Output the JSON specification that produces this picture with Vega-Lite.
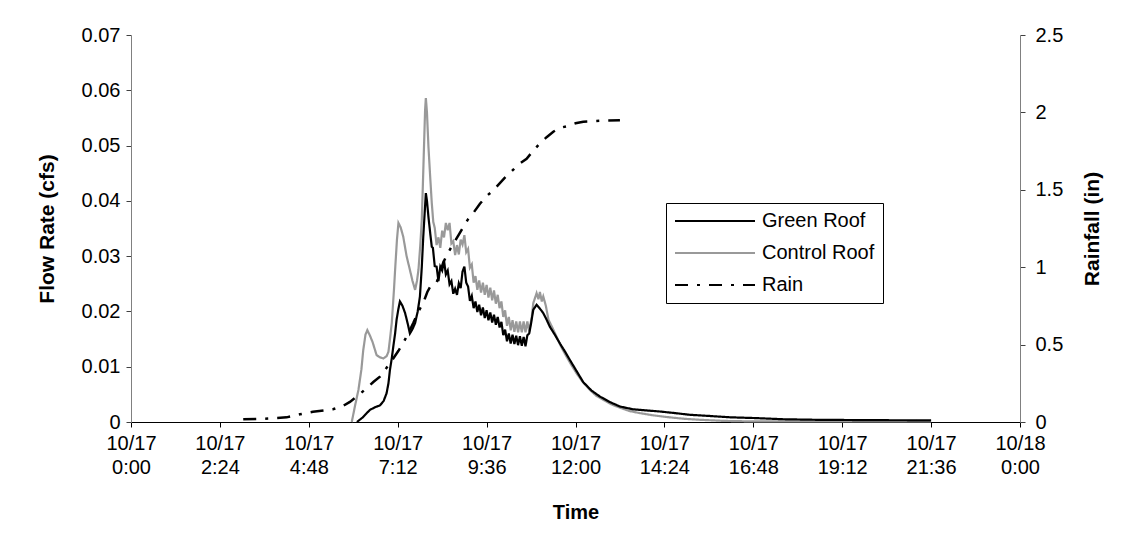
{
  "$schema": "https://vega.github.io/schema/vega-lite/v6.json",
  "width": 889,
  "height": 387,
  "autosize": {"type": "none"},
  "padding": {"left": 131, "top": 35, "right": 110, "bottom": 111},
  "background": "white",
  "config": {
    "font": "Liberation Sans",
    "view": {"stroke": null},
    "axis": {"grid": false, "labelColor": "black", "titleColor": "black", "labelFontSize": 20, "titleFontSize": 21, "titleFontWeight": "bold", "labelFont": "Liberation Sans", "titleFont": "Liberation Sans"}
  },
  "datasets": {
    "control": [
      {"series": "Control Roof", "hour": 5.96, "flow": 0},
      {"series": "Control Roof", "hour": 6.05, "flow": 0.003},
      {"series": "Control Roof", "hour": 6.14, "flow": 0.0058},
      {"series": "Control Roof", "hour": 6.22, "flow": 0.0095},
      {"series": "Control Roof", "hour": 6.27, "flow": 0.013},
      {"series": "Control Roof", "hour": 6.33, "flow": 0.0158},
      {"series": "Control Roof", "hour": 6.38, "flow": 0.0166},
      {"series": "Control Roof", "hour": 6.44, "flow": 0.0158},
      {"series": "Control Roof", "hour": 6.52, "flow": 0.0145},
      {"series": "Control Roof", "hour": 6.63, "flow": 0.0121},
      {"series": "Control Roof", "hour": 6.72, "flow": 0.0117},
      {"series": "Control Roof", "hour": 6.81, "flow": 0.0115},
      {"series": "Control Roof", "hour": 6.9, "flow": 0.0119},
      {"series": "Control Roof", "hour": 6.95, "flow": 0.0127},
      {"series": "Control Roof", "hour": 7.0, "flow": 0.0155},
      {"series": "Control Roof", "hour": 7.04, "flow": 0.0179},
      {"series": "Control Roof", "hour": 7.1, "flow": 0.024},
      {"series": "Control Roof", "hour": 7.13, "flow": 0.0275},
      {"series": "Control Roof", "hour": 7.18, "flow": 0.033},
      {"series": "Control Roof", "hour": 7.22, "flow": 0.036},
      {"series": "Control Roof", "hour": 7.28, "flow": 0.0352},
      {"series": "Control Roof", "hour": 7.35, "flow": 0.0335},
      {"series": "Control Roof", "hour": 7.44, "flow": 0.03},
      {"series": "Control Roof", "hour": 7.53, "flow": 0.0275},
      {"series": "Control Roof", "hour": 7.6, "flow": 0.0255},
      {"series": "Control Roof", "hour": 7.67, "flow": 0.0239},
      {"series": "Control Roof", "hour": 7.72, "flow": 0.0255},
      {"series": "Control Roof", "hour": 7.76, "flow": 0.0275},
      {"series": "Control Roof", "hour": 7.81, "flow": 0.032},
      {"series": "Control Roof", "hour": 7.85, "flow": 0.0365},
      {"series": "Control Roof", "hour": 7.88, "flow": 0.043},
      {"series": "Control Roof", "hour": 7.91, "flow": 0.0498},
      {"series": "Control Roof", "hour": 7.94, "flow": 0.0565},
      {"series": "Control Roof", "hour": 7.96, "flow": 0.0586},
      {"series": "Control Roof", "hour": 7.99, "flow": 0.056},
      {"series": "Control Roof", "hour": 8.03, "flow": 0.0498},
      {"series": "Control Roof", "hour": 8.08, "flow": 0.044},
      {"series": "Control Roof", "hour": 8.12, "flow": 0.0396},
      {"series": "Control Roof", "hour": 8.16, "flow": 0.0362},
      {"series": "Control Roof", "hour": 8.2, "flow": 0.0351},
      {"series": "Control Roof", "hour": 8.25, "flow": 0.032},
      {"series": "Control Roof", "hour": 8.3, "flow": 0.0334},
      {"series": "Control Roof", "hour": 8.35, "flow": 0.0315},
      {"series": "Control Roof", "hour": 8.4, "flow": 0.0346},
      {"series": "Control Roof", "hour": 8.45, "flow": 0.0334},
      {"series": "Control Roof", "hour": 8.5, "flow": 0.036},
      {"series": "Control Roof", "hour": 8.55, "flow": 0.0347},
      {"series": "Control Roof", "hour": 8.6, "flow": 0.036},
      {"series": "Control Roof", "hour": 8.65, "flow": 0.0323},
      {"series": "Control Roof", "hour": 8.7, "flow": 0.0327},
      {"series": "Control Roof", "hour": 8.75, "flow": 0.0302},
      {"series": "Control Roof", "hour": 8.8, "flow": 0.032},
      {"series": "Control Roof", "hour": 8.85, "flow": 0.0303},
      {"series": "Control Roof", "hour": 8.9, "flow": 0.033},
      {"series": "Control Roof", "hour": 8.95, "flow": 0.0321},
      {"series": "Control Roof", "hour": 9.0, "flow": 0.0338},
      {"series": "Control Roof", "hour": 9.05, "flow": 0.0307},
      {"series": "Control Roof", "hour": 9.1, "flow": 0.0313},
      {"series": "Control Roof", "hour": 9.15, "flow": 0.0279},
      {"series": "Control Roof", "hour": 9.2, "flow": 0.0285},
      {"series": "Control Roof", "hour": 9.25, "flow": 0.0252},
      {"series": "Control Roof", "hour": 9.3, "flow": 0.0264},
      {"series": "Control Roof", "hour": 9.35, "flow": 0.0239},
      {"series": "Control Roof", "hour": 9.4, "flow": 0.0256},
      {"series": "Control Roof", "hour": 9.45, "flow": 0.0234},
      {"series": "Control Roof", "hour": 9.5, "flow": 0.0252},
      {"series": "Control Roof", "hour": 9.55, "flow": 0.023},
      {"series": "Control Roof", "hour": 9.6, "flow": 0.0248},
      {"series": "Control Roof", "hour": 9.65, "flow": 0.0225},
      {"series": "Control Roof", "hour": 9.7, "flow": 0.0243},
      {"series": "Control Roof", "hour": 9.75, "flow": 0.022},
      {"series": "Control Roof", "hour": 9.8, "flow": 0.0238},
      {"series": "Control Roof", "hour": 9.85, "flow": 0.0214},
      {"series": "Control Roof", "hour": 9.9, "flow": 0.023},
      {"series": "Control Roof", "hour": 9.95, "flow": 0.0206},
      {"series": "Control Roof", "hour": 10.0, "flow": 0.0218},
      {"series": "Control Roof", "hour": 10.05, "flow": 0.019},
      {"series": "Control Roof", "hour": 10.1, "flow": 0.0202},
      {"series": "Control Roof", "hour": 10.15, "flow": 0.0174},
      {"series": "Control Roof", "hour": 10.2, "flow": 0.019},
      {"series": "Control Roof", "hour": 10.25, "flow": 0.0166},
      {"series": "Control Roof", "hour": 10.3, "flow": 0.0184},
      {"series": "Control Roof", "hour": 10.35, "flow": 0.0163},
      {"series": "Control Roof", "hour": 10.4, "flow": 0.0182},
      {"series": "Control Roof", "hour": 10.45, "flow": 0.0162},
      {"series": "Control Roof", "hour": 10.5, "flow": 0.0182},
      {"series": "Control Roof", "hour": 10.55, "flow": 0.0162},
      {"series": "Control Roof", "hour": 10.6, "flow": 0.0182},
      {"series": "Control Roof", "hour": 10.65, "flow": 0.0162},
      {"series": "Control Roof", "hour": 10.7, "flow": 0.0182},
      {"series": "Control Roof", "hour": 10.75, "flow": 0.0164},
      {"series": "Control Roof", "hour": 10.82, "flow": 0.019},
      {"series": "Control Roof", "hour": 10.86, "flow": 0.0215},
      {"series": "Control Roof", "hour": 10.95, "flow": 0.0233},
      {"series": "Control Roof", "hour": 11.0, "flow": 0.0222},
      {"series": "Control Roof", "hour": 11.04, "flow": 0.0235},
      {"series": "Control Roof", "hour": 11.09, "flow": 0.0218},
      {"series": "Control Roof", "hour": 11.13, "flow": 0.0227},
      {"series": "Control Roof", "hour": 11.2, "flow": 0.021},
      {"series": "Control Roof", "hour": 11.27, "flow": 0.0185},
      {"series": "Control Roof", "hour": 11.38, "flow": 0.017},
      {"series": "Control Roof", "hour": 11.49, "flow": 0.0154},
      {"series": "Control Roof", "hour": 11.62, "flow": 0.0135},
      {"series": "Control Roof", "hour": 11.76, "flow": 0.0118},
      {"series": "Control Roof", "hour": 11.9, "flow": 0.0102},
      {"series": "Control Roof", "hour": 12.03, "flow": 0.0088},
      {"series": "Control Roof", "hour": 12.2, "flow": 0.0072},
      {"series": "Control Roof", "hour": 12.39, "flow": 0.0058},
      {"series": "Control Roof", "hour": 12.57, "flow": 0.0047},
      {"series": "Control Roof", "hour": 12.75, "flow": 0.004},
      {"series": "Control Roof", "hour": 13.0, "flow": 0.0031},
      {"series": "Control Roof", "hour": 13.2, "flow": 0.0026},
      {"series": "Control Roof", "hour": 13.45, "flow": 0.002},
      {"series": "Control Roof", "hour": 13.74, "flow": 0.0016},
      {"series": "Control Roof", "hour": 14.1, "flow": 0.0012},
      {"series": "Control Roof", "hour": 14.46, "flow": 0.0009},
      {"series": "Control Roof", "hour": 14.9, "flow": 0.0006},
      {"series": "Control Roof", "hour": 15.36, "flow": 0.0004},
      {"series": "Control Roof", "hour": 16.0, "flow": 0.0002},
      {"series": "Control Roof", "hour": 16.8, "flow": 0.0001},
      {"series": "Control Roof", "hour": 18.0, "flow": 0.0001},
      {"series": "Control Roof", "hour": 20.0, "flow": 0.0001},
      {"series": "Control Roof", "hour": 21.6, "flow": 0.0001}
    ],
    "green": [
      {"series": "Green Roof", "hour": 6.1, "flow": 0},
      {"series": "Green Roof", "hour": 6.25, "flow": 0.0008},
      {"series": "Green Roof", "hour": 6.35, "flow": 0.0015},
      {"series": "Green Roof", "hour": 6.45, "flow": 0.0022},
      {"series": "Green Roof", "hour": 6.6, "flow": 0.0027},
      {"series": "Green Roof", "hour": 6.72, "flow": 0.003},
      {"series": "Green Roof", "hour": 6.82, "flow": 0.0038},
      {"series": "Green Roof", "hour": 6.9, "flow": 0.0052},
      {"series": "Green Roof", "hour": 6.95, "flow": 0.007},
      {"series": "Green Roof", "hour": 6.99, "flow": 0.0094},
      {"series": "Green Roof", "hour": 7.04, "flow": 0.0115},
      {"series": "Green Roof", "hour": 7.08, "flow": 0.0136},
      {"series": "Green Roof", "hour": 7.13, "flow": 0.016},
      {"series": "Green Roof", "hour": 7.17, "flow": 0.0185},
      {"series": "Green Roof", "hour": 7.22, "flow": 0.0205},
      {"series": "Green Roof", "hour": 7.26, "flow": 0.0218},
      {"series": "Green Roof", "hour": 7.33, "flow": 0.021},
      {"series": "Green Roof", "hour": 7.4, "flow": 0.0197},
      {"series": "Green Roof", "hour": 7.47, "flow": 0.0178},
      {"series": "Green Roof", "hour": 7.53, "flow": 0.016},
      {"series": "Green Roof", "hour": 7.6, "flow": 0.0168},
      {"series": "Green Roof", "hour": 7.67, "flow": 0.0179},
      {"series": "Green Roof", "hour": 7.74, "flow": 0.02},
      {"series": "Green Roof", "hour": 7.8, "flow": 0.0227},
      {"series": "Green Roof", "hour": 7.85, "flow": 0.028},
      {"series": "Green Roof", "hour": 7.89, "flow": 0.0335},
      {"series": "Green Roof", "hour": 7.93, "flow": 0.038},
      {"series": "Green Roof", "hour": 7.96, "flow": 0.0414},
      {"series": "Green Roof", "hour": 7.99, "flow": 0.04},
      {"series": "Green Roof", "hour": 8.03, "flow": 0.0371},
      {"series": "Green Roof", "hour": 8.08, "flow": 0.034},
      {"series": "Green Roof", "hour": 8.12, "flow": 0.0317},
      {"series": "Green Roof", "hour": 8.15, "flow": 0.0315},
      {"series": "Green Roof", "hour": 8.2, "flow": 0.0282},
      {"series": "Green Roof", "hour": 8.25, "flow": 0.0281},
      {"series": "Green Roof", "hour": 8.3, "flow": 0.0255},
      {"series": "Green Roof", "hour": 8.35, "flow": 0.0281},
      {"series": "Green Roof", "hour": 8.4, "flow": 0.0274},
      {"series": "Green Roof", "hour": 8.45, "flow": 0.0292},
      {"series": "Green Roof", "hour": 8.5, "flow": 0.0267},
      {"series": "Green Roof", "hour": 8.55, "flow": 0.0274},
      {"series": "Green Roof", "hour": 8.6, "flow": 0.0249},
      {"series": "Green Roof", "hour": 8.65, "flow": 0.0255},
      {"series": "Green Roof", "hour": 8.7, "flow": 0.0232},
      {"series": "Green Roof", "hour": 8.75, "flow": 0.0241},
      {"series": "Green Roof", "hour": 8.8, "flow": 0.023},
      {"series": "Green Roof", "hour": 8.85, "flow": 0.0251},
      {"series": "Green Roof", "hour": 8.9, "flow": 0.0242},
      {"series": "Green Roof", "hour": 8.95, "flow": 0.0272},
      {"series": "Green Roof", "hour": 9.0, "flow": 0.0281},
      {"series": "Green Roof", "hour": 9.05, "flow": 0.0252},
      {"series": "Green Roof", "hour": 9.1, "flow": 0.0245},
      {"series": "Green Roof", "hour": 9.15, "flow": 0.0219},
      {"series": "Green Roof", "hour": 9.2, "flow": 0.0228},
      {"series": "Green Roof", "hour": 9.25, "flow": 0.0206},
      {"series": "Green Roof", "hour": 9.3, "flow": 0.0218},
      {"series": "Green Roof", "hour": 9.35, "flow": 0.0199},
      {"series": "Green Roof", "hour": 9.4, "flow": 0.0212},
      {"series": "Green Roof", "hour": 9.45, "flow": 0.0193},
      {"series": "Green Roof", "hour": 9.5, "flow": 0.0207},
      {"series": "Green Roof", "hour": 9.55, "flow": 0.0188},
      {"series": "Green Roof", "hour": 9.6, "flow": 0.0202},
      {"series": "Green Roof", "hour": 9.65, "flow": 0.0184},
      {"series": "Green Roof", "hour": 9.7, "flow": 0.0198},
      {"series": "Green Roof", "hour": 9.75, "flow": 0.018},
      {"series": "Green Roof", "hour": 9.8, "flow": 0.0194},
      {"series": "Green Roof", "hour": 9.85, "flow": 0.0176},
      {"series": "Green Roof", "hour": 9.9, "flow": 0.019},
      {"series": "Green Roof", "hour": 9.95, "flow": 0.0171},
      {"series": "Green Roof", "hour": 10.0, "flow": 0.0181},
      {"series": "Green Roof", "hour": 10.05, "flow": 0.0157},
      {"series": "Green Roof", "hour": 10.1, "flow": 0.0167},
      {"series": "Green Roof", "hour": 10.15, "flow": 0.0146},
      {"series": "Green Roof", "hour": 10.2, "flow": 0.016},
      {"series": "Green Roof", "hour": 10.25, "flow": 0.0142},
      {"series": "Green Roof", "hour": 10.3, "flow": 0.0158},
      {"series": "Green Roof", "hour": 10.35, "flow": 0.0141},
      {"series": "Green Roof", "hour": 10.4, "flow": 0.0156},
      {"series": "Green Roof", "hour": 10.45, "flow": 0.0139},
      {"series": "Green Roof", "hour": 10.5, "flow": 0.0155},
      {"series": "Green Roof", "hour": 10.55, "flow": 0.0138},
      {"series": "Green Roof", "hour": 10.6, "flow": 0.0154},
      {"series": "Green Roof", "hour": 10.65, "flow": 0.0137},
      {"series": "Green Roof", "hour": 10.7, "flow": 0.0157},
      {"series": "Green Roof", "hour": 10.75, "flow": 0.016},
      {"series": "Green Roof", "hour": 10.8, "flow": 0.0178},
      {"series": "Green Roof", "hour": 10.86, "flow": 0.0203},
      {"series": "Green Roof", "hour": 10.95, "flow": 0.0212},
      {"series": "Green Roof", "hour": 11.04, "flow": 0.0205},
      {"series": "Green Roof", "hour": 11.13, "flow": 0.0197},
      {"series": "Green Roof", "hour": 11.22, "flow": 0.0185},
      {"series": "Green Roof", "hour": 11.31, "flow": 0.0172},
      {"series": "Green Roof", "hour": 11.45, "flow": 0.0157},
      {"series": "Green Roof", "hour": 11.58, "flow": 0.0142},
      {"series": "Green Roof", "hour": 11.72, "flow": 0.0127},
      {"series": "Green Roof", "hour": 11.85, "flow": 0.0112},
      {"series": "Green Roof", "hour": 12.03, "flow": 0.0092},
      {"series": "Green Roof", "hour": 12.21, "flow": 0.0072},
      {"series": "Green Roof", "hour": 12.43, "flow": 0.0057},
      {"series": "Green Roof", "hour": 12.66, "flow": 0.0046},
      {"series": "Green Roof", "hour": 12.93, "flow": 0.0036},
      {"series": "Green Roof", "hour": 13.2, "flow": 0.0028},
      {"series": "Green Roof", "hour": 13.55, "flow": 0.0023},
      {"series": "Green Roof", "hour": 13.9, "flow": 0.0021},
      {"series": "Green Roof", "hour": 14.28, "flow": 0.0019},
      {"series": "Green Roof", "hour": 14.7, "flow": 0.0016},
      {"series": "Green Roof", "hour": 15.09, "flow": 0.0013},
      {"series": "Green Roof", "hour": 15.6, "flow": 0.0011},
      {"series": "Green Roof", "hour": 16.17, "flow": 0.00085},
      {"series": "Green Roof", "hour": 16.9, "flow": 0.0007},
      {"series": "Green Roof", "hour": 17.6, "flow": 0.0005},
      {"series": "Green Roof", "hour": 18.5, "flow": 0.0004},
      {"series": "Green Roof", "hour": 19.4, "flow": 0.00036},
      {"series": "Green Roof", "hour": 20.5, "flow": 0.00032},
      {"series": "Green Roof", "hour": 21.6, "flow": 0.0003}
    ],
    "rain": [
      {"series": "Rain", "hour": 3.03, "rain": 0.017},
      {"series": "Rain", "hour": 3.5, "rain": 0.02},
      {"series": "Rain", "hour": 4.2, "rain": 0.03},
      {"series": "Rain", "hour": 4.56, "rain": 0.05},
      {"series": "Rain", "hour": 4.91, "rain": 0.066},
      {"series": "Rain", "hour": 5.2, "rain": 0.075},
      {"series": "Rain", "hour": 5.45, "rain": 0.082},
      {"series": "Rain", "hour": 5.7, "rain": 0.1},
      {"series": "Rain", "hour": 5.91, "rain": 0.13},
      {"series": "Rain", "hour": 6.09, "rain": 0.163},
      {"series": "Rain", "hour": 6.36, "rain": 0.218},
      {"series": "Rain", "hour": 6.55, "rain": 0.26},
      {"series": "Rain", "hour": 6.72, "rain": 0.293},
      {"series": "Rain", "hour": 6.9, "rain": 0.35},
      {"series": "Rain", "hour": 7.08, "rain": 0.41},
      {"series": "Rain", "hour": 7.22, "rain": 0.46},
      {"series": "Rain", "hour": 7.35, "rain": 0.51},
      {"series": "Rain", "hour": 7.5, "rain": 0.58},
      {"series": "Rain", "hour": 7.62, "rain": 0.64},
      {"series": "Rain", "hour": 7.75, "rain": 0.71},
      {"series": "Rain", "hour": 7.89, "rain": 0.77},
      {"series": "Rain", "hour": 8.0, "rain": 0.84},
      {"series": "Rain", "hour": 8.07, "rain": 0.87},
      {"series": "Rain", "hour": 8.25, "rain": 0.9},
      {"series": "Rain", "hour": 8.35, "rain": 0.97},
      {"series": "Rain", "hour": 8.43, "rain": 1.03},
      {"series": "Rain", "hour": 8.55, "rain": 1.09},
      {"series": "Rain", "hour": 8.7, "rain": 1.15},
      {"series": "Rain", "hour": 8.85, "rain": 1.21},
      {"series": "Rain", "hour": 8.97, "rain": 1.26},
      {"series": "Rain", "hour": 9.1, "rain": 1.31},
      {"series": "Rain", "hour": 9.24, "rain": 1.35},
      {"series": "Rain", "hour": 9.42, "rain": 1.41},
      {"series": "Rain", "hour": 9.6, "rain": 1.46},
      {"series": "Rain", "hour": 9.75, "rain": 1.49},
      {"series": "Rain", "hour": 9.87, "rain": 1.52},
      {"series": "Rain", "hour": 10.1, "rain": 1.58},
      {"series": "Rain", "hour": 10.32, "rain": 1.63},
      {"series": "Rain", "hour": 10.5, "rain": 1.67},
      {"series": "Rain", "hour": 10.68, "rain": 1.7},
      {"series": "Rain", "hour": 10.85, "rain": 1.75},
      {"series": "Rain", "hour": 11.04, "rain": 1.8},
      {"series": "Rain", "hour": 11.22, "rain": 1.84},
      {"series": "Rain", "hour": 11.4, "rain": 1.875},
      {"series": "Rain", "hour": 11.58, "rain": 1.9},
      {"series": "Rain", "hour": 11.76, "rain": 1.91},
      {"series": "Rain", "hour": 12.0, "rain": 1.93},
      {"series": "Rain", "hour": 12.21, "rain": 1.94},
      {"series": "Rain", "hour": 12.66, "rain": 1.946},
      {"series": "Rain", "hour": 13.2, "rain": 1.95}
    ]
  },
  "encoding": {
    "x": {
      "field": "hour",
      "type": "quantitative",
      "scale": {"domain": [0, 24], "nice": false, "zero": false},
      "axis": {
        "title": "Time",
        "titleFontSize": 20,
        "values": [0, 2.4, 4.8, 7.2, 9.6, 12, 14.4, 16.8, 19.2, 21.6, 24],
        "labelExpr": "[datum.value < 24 ? '10/17' : '10/18', (floor(datum.value + 0.001) % 24) + ':' + pad(round((datum.value - floor(datum.value + 0.001)) * 60), 2, '0', 'left')]",
        "labelAngle": 0,
        "labelBaseline": "top",
        "labelLineHeight": 24,
        "labelPadding": 6,
        "labelFlush": false,
        "labelOverlap": false,
        "domainColor": "black",
        "tickColor": "black",
        "tickSize": 5,
        "titlePadding": 25
      }
    },
    "color": {
      "field": "series",
      "type": "nominal",
      "scale": {"domain": ["Green Roof", "Control Roof", "Rain"], "range": ["#000000", "#999999", "#000000"]},
      "legend": {
        "title": null,
        "orient": "none",
        "legendX": 535,
        "legendY": 168,
        "direction": "vertical",
        "strokeColor": "black",
        "fillColor": "white",
        "padding": 8,
        "rowPadding": 12,
        "symbolType": "M-8,0H8",
        "symbolSize": 100,
        "symbolOffset": 31,
        "symbolStrokeWidth": 2,
        "labelFontSize": 20,
        "labelColor": "black",
        "labelOffset": 37,
        "labelFont": "Liberation Sans"
      }
    },
    "strokeDash": {
      "field": "series",
      "type": "nominal",
      "scale": {"domain": ["Green Roof", "Control Roof", "Rain"], "range": [[1, 0], [1, 0], [13, 9, 3, 9]]},
      "legend": {"title": null}
    }
  },
  "layer": [
    {
      "data": {"name": "control"},
      "mark": {"type": "line", "strokeWidth": 2.2},
      "encoding": {
        "y": {
          "field": "flow",
          "type": "quantitative",
          "scale": {"domain": [0, 0.07], "nice": false},
          "axis": {
            "title": "Flow Rate (cfs)",
            "values": [0, 0.01, 0.02, 0.03, 0.04, 0.05, 0.06, 0.07],
            "format": ".2~f",
            "domainColor": "#808080",
            "tickColor": "#404040",
            "tickSize": 5,
            "labelPadding": 6,
            "titlePadding": 24
          }
        }
      }
    },
    {
      "data": {"name": "green"},
      "mark": {"type": "line", "strokeWidth": 2.2},
      "encoding": {
        "y": {
          "field": "flow",
          "type": "quantitative",
          "scale": {"domain": [0, 0.07], "nice": false},
          "axis": null
        }
      }
    },
    {
      "data": {"name": "rain"},
      "mark": {"type": "line", "strokeWidth": 2.5, "strokeCap": "butt"},
      "encoding": {
        "y": {
          "field": "rain",
          "type": "quantitative",
          "scale": {"domain": [0, 2.5], "nice": false},
          "axis": {
            "orient": "right",
            "title": "Rainfall (in)",
            "titleAngle": 270,
            "values": [0, 0.5, 1, 1.5, 2, 2.5],
            "format": ".1~f",
            "domainColor": "#808080",
            "tickColor": "#404040",
            "tickSize": 5,
            "labelPadding": 10,
            "titlePadding": 40
          }
        }
      }
    }
  ],
  "resolve": {"scale": {"y": "independent"}}
}
